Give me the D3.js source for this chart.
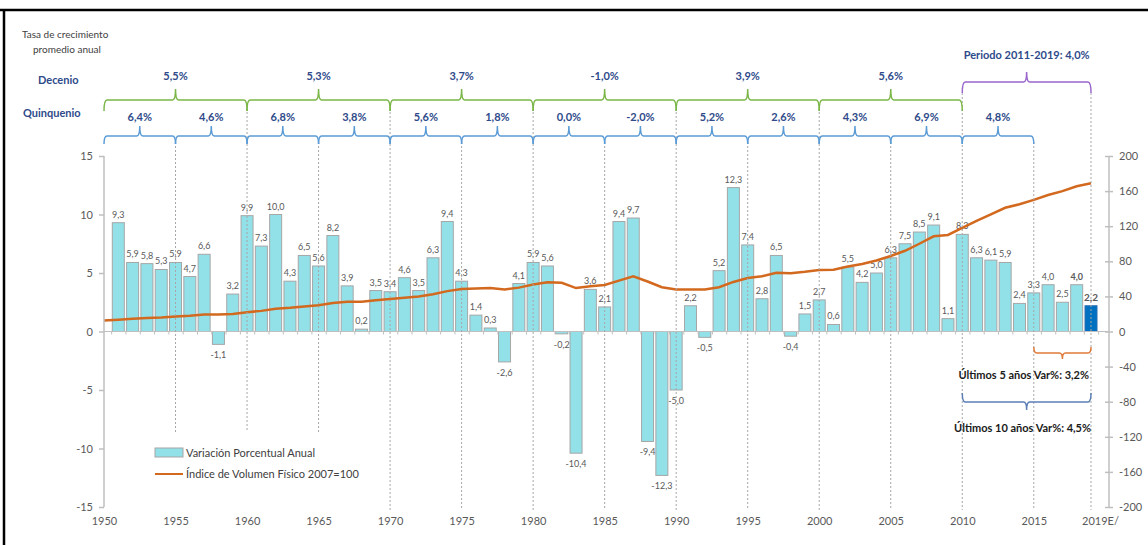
<!DOCTYPE html>
<html>
<head>
<meta charset="utf-8">
<script src="https://cdn.jsdelivr.net/npm/d3@7"></script>
<style>
  body { margin: 0; background: #fff; }
  svg { font-family: Lato, "Liberation Sans", sans-serif; }
</style>
</head>
<body>
<div id="chart"></div>
<script>
// Data
const years = d3.range(1951, 2020);
const growth = [9.3, 5.9, 5.8, 5.3, 5.9, 4.7, 6.6, -1.1, 3.2, 9.9,
                7.3, 10.0, 4.3, 6.5, 5.6, 8.2, 3.9, 0.2, 3.5, 3.4,
                4.6, 3.5, 6.3, 9.4, 4.3, 1.4, 0.3, -2.6, 4.1, 5.9,
                5.6, -0.2, -10.4, 3.6, 2.1, 9.4, 9.7, -9.4, -12.3, -5.0,
                2.2, -0.5, 5.2, 12.3, 7.4, 2.8, 6.5, -0.4, 1.5, 2.7,
                0.6, 5.5, 4.2, 5.0, 6.3, 7.5, 8.5, 9.1, 1.1, 8.3,
                6.3, 6.1, 5.9, 2.4, 3.3, 4.0, 2.5, 4.0, 2.2];
const indexYears = d3.range(1950, 2020);
const indexValues = [12.5, 13.5, 14.5, 15.5, 16, 17, 18, 19.5, 19.5, 20,
                     22, 23.5, 26, 27, 28.5, 30, 32.5, 34, 34, 35.5,
                     37, 38.5, 40, 42.5, 46, 48.5, 49, 49.5, 48, 50,
                     53.5, 56, 55.5, 49.5, 51.5, 53, 58, 63, 57, 50.5,
                     48, 48, 48, 50.5, 56.5, 61, 63, 67, 66.5, 68,
                     70, 70.5, 74, 77, 81, 86, 92, 100, 108.5, 110,
                     118, 126, 133.5, 141, 145, 150, 155.5, 160, 165.5, 169];
const decadeStarts = [1950, 1960, 1970, 1980, 1990, 2000];
const decadeRates = ['5,5%', '5,3%', '3,7%', '-1,0%', '3,9%', '5,6%'];
const quinqStarts = [1950, 1955, 1960, 1965, 1970, 1975, 1980, 1985, 1990, 1995, 2000, 2005, 2010];
const quinqRates = ['6,4%', '4,6%', '6,8%', '3,8%', '5,6%', '1,8%', '0,0%', '-2,0%', '5,2%', '2,6%', '4,3%', '6,9%', '4,8%'];
const xTickYears = [1950, 1955, 1960, 1965, 1970, 1975, 1980, 1985, 1990, 1995, 2000, 2005, 2010, 2015, 2019];
const leftTicks = [-15, -10, -5, 0, 5, 10, 15];
const rightTicks = [-200, -160, -120, -80, -40, 0, 40, 80, 120, 160, 200];

const width = 1148, height = 545;
const svg = d3.select('#chart').append('svg')
  .attr('width', width).attr('height', height);

const x = d3.scaleLinear().domain([1950, 2019]).range([104, 1091]);
const yL = d3.scaleLinear().domain([-15, 15]).range([507, 156]);
const yR = d3.scaleLinear().domain([-200, 200]).range([507, 156]);

const navy = '#2e4a8a';
const axisGray = '#bfbfbf';
const textGray = '#595959';

// frame
svg.append('line').attr('x1', 0).attr('x2', width).attr('y1', 10).attr('y2', 10)
  .attr('stroke', '#000').attr('stroke-width', 2.5);
svg.append('line').attr('x1', 4).attr('x2', 4).attr('y1', 10).attr('y2', height)
  .attr('stroke', '#000').attr('stroke-width', 2.5);

// header texts
svg.append('text').attr('x', 22).attr('y', 38).attr('font-size', 10).attr('fill', '#404040')
  .text('Tasa de crecimiento');
svg.append('text').attr('x', 33).attr('y', 53).attr('font-size', 10).attr('fill', '#404040')
  .text('promedio anual');
svg.append('text').attr('x', 38).attr('y', 84).attr('font-size', 11).attr('font-weight', 'bold')
  .attr('fill', navy).text('Decenio');
svg.append('text').attr('x', 23).attr('y', 117).attr('font-size', 11).attr('font-weight', 'bold')
  .attr('fill', navy).text('Quinquenio');

// curly bracket path, dir=1: ends go down & nub up; dir=-1: reverse
function bracket(x0, x1, y, endLen, nubLen, dir) {
  const xm = (x0 + x1) / 2;
  const e = endLen * dir, n = nubLen * dir;
  return `M${x0},${y + e} Q${x0},${y} ${x0 + 3},${y} L${xm - 3},${y} Q${xm},${y} ${xm},${y - n}` +
         ` Q${xm},${y} ${xm + 3},${y} L${x1 - 3},${y} Q${x1},${y} ${x1},${y + e}`;
}

// dashed year separators
const sepYears = [1955, 1960, 1965, 1970, 1975, 1980, 1985, 1990, 1995, 2000, 2005, 2010, 2015, 2019];
function sepTop(yr) {
  if (yr === 2010 || yr === 2019) return 93;
  if (yr % 10 === 0) return 112;
  return 142;
}
function sepBottom(yr) {
  return (yr >= 1955 && yr <= 1965) ? 432 : 510;
}

// bars
const barW = 12;
svg.append('g').selectAll('rect')
  .data(years)
  .join('rect')
  .attr('x', d => x(d) - barW / 2)
  .attr('width', barW)
  .attr('y', (d, i) => yL(Math.max(0, growth[i])))
  .attr('height', (d, i) => Math.abs(yL(growth[i]) - yL(0)))
  .attr('fill', d => d === 2019 ? '#0070c0' : '#92e1e9')
  .attr('stroke', d => d === 2019 ? '#2a6fb0' : '#a6a6a6')
  .attr('stroke-width', 1);

// bar labels
svg.append('g').selectAll('text')
  .data(years)
  .join('text')
  .attr('x', d => x(d))
  .attr('y', (d, i) => growth[i] >= 0 ? yL(growth[i]) - 5 : yL(growth[i]) + 14)
  .attr('text-anchor', 'middle')
  .attr('font-size', (d) => d === 2019 ? 10 : 9)
  .attr('font-weight', d => d >= 2018 ? 'bold' : 'normal')
  .attr('fill', textGray)
  .text((d, i) => growth[i].toFixed(1).replace('.', ','));

// zero line with year ticks
const zeroAxis = svg.append('g').attr('transform', `translate(0,${yL(0)})`)
  .call(d3.axisBottom(x).tickValues(d3.range(1950.5, 2019.6, 1)).tickSize(3).tickFormat(''));
zeroAxis.select('.domain').attr('d', `M104,0H1109`);
zeroAxis.selectAll('line, path').attr('stroke', axisGray);

// index line
const line = d3.line().x((d, i) => x(indexYears[i])).y(d => yR(d));
svg.append('path').datum(indexValues)
  .attr('d', line)
  .attr('fill', 'none')
  .attr('stroke', '#d2691e')
  .attr('stroke-width', 2.5);

// separators
svg.append('g').selectAll('line')
  .data(sepYears)
  .join('line')
  .attr('x1', d => x(d)).attr('x2', d => x(d))
  .attr('y1', d => sepTop(d)).attr('y2', d => sepBottom(d))
  .attr('stroke', '#a6a6a6')
  .attr('stroke-dasharray', '2,2');

// left axis
const leftAxis = svg.append('g').attr('transform', 'translate(104,0)')
  .call(d3.axisLeft(yL).tickValues(leftTicks).tickSize(5).tickPadding(6).tickFormat(d => String(d)));
leftAxis.selectAll('line, path').attr('stroke', axisGray).attr('stroke-width', 1.5);
leftAxis.select('.domain').attr('d', 'M0,156V507');
leftAxis.selectAll('text').attr('fill', textGray).attr('font-size', 11)
  .attr('font-family', 'Lato, sans-serif');

// right axis
const rightAxis = svg.append('g').attr('transform', 'translate(1109,0)')
  .call(d3.axisRight(yR).tickValues(rightTicks).tickSize(4).tickPadding(6).tickFormat(d => String(d)));
rightAxis.selectAll('line, path').attr('stroke', axisGray).attr('stroke-width', 1.5);
rightAxis.select('.domain').attr('d', 'M0,156V507');
rightAxis.selectAll('line').attr('x1', -4);
rightAxis.selectAll('text').attr('fill', textGray).attr('font-size', 11)
  .attr('font-family', 'Lato, sans-serif');

// bottom year labels
const bottomAxis = svg.append('g').attr('transform', 'translate(0,513)')
  .call(d3.axisBottom(x).tickValues(xTickYears).tickSize(0).tickPadding(4)
    .tickFormat(d => d === 2019 ? '2019E/' : d));
bottomAxis.select('.domain').remove();
bottomAxis.selectAll('text').attr('fill', textGray).attr('font-size', 11)
  .attr('font-family', 'Lato, sans-serif')
  .attr('dx', d => d === 2019 ? 9 : 0);

// decade brackets
const decG = svg.append('g');
decG.selectAll('path')
  .data(decadeStarts)
  .join('path')
  .attr('d', d => bracket(x(d), x(d + 10), 100, 11, 11, 1))
  .attr('fill', 'none').attr('stroke', '#7ab648').attr('stroke-width', 1.5);
decG.selectAll('text')
  .data(decadeStarts)
  .join('text')
  .attr('x', d => x(d + 5)).attr('y', 80)
  .attr('text-anchor', 'middle').attr('font-size', 11).attr('font-weight', 'bold')
  .attr('fill', navy)
  .text((d, i) => decadeRates[i]);

// quinquennium brackets
const qG = svg.append('g');
qG.selectAll('path')
  .data(quinqStarts)
  .join('path')
  .attr('d', d => bracket(x(d), x(d + 5), 136, 8, 10, 1))
  .attr('fill', 'none').attr('stroke', '#5b9bd5').attr('stroke-width', 1.5);
qG.selectAll('text')
  .data(quinqStarts)
  .join('text')
  .attr('x', d => x(d + 2.5)).attr('y', 121)
  .attr('text-anchor', 'middle').attr('font-size', 11).attr('font-weight', 'bold')
  .attr('fill', navy)
  .text((d, i) => quinqRates[i]);

// period 2011-2019 bracket
svg.append('path')
  .attr('d', bracket(x(2010), x(2019), 82, 11, 10, 1))
  .attr('fill', 'none').attr('stroke', '#9966cc').attr('stroke-width', 1.5);
svg.append('text').attr('x', x(2014.5)).attr('y', 59)
  .attr('text-anchor', 'middle').attr('font-size', 11).attr('font-weight', 'bold')
  .attr('fill', navy).text('Periodo  2011-2019: 4,0%');

// last 5 / last 10 years brackets
svg.append('path')
  .attr('d', bracket(x(2015), x(2019), 353, 6, 6, -1))
  .attr('fill', 'none').attr('stroke', '#e07b39').attr('stroke-width', 1.5);
svg.append('text').attr('x', 1089).attr('y', 379)
  .attr('text-anchor', 'end').attr('font-size', 11).attr('font-weight', 'bold')
  .attr('fill', '#1a1a1a').text('Últimos 5 años  Var%: 3,2%');
svg.append('path')
  .attr('d', bracket(x(2010), x(2019), 402, 9, 8, -1))
  .attr('fill', 'none').attr('stroke', '#5b7fb5').attr('stroke-width', 1.5);
svg.append('text').attr('x', 1091).attr('y', 432)
  .attr('text-anchor', 'end').attr('font-size', 11).attr('font-weight', 'bold')
  .attr('fill', '#1a1a1a').text('Últimos 10 años  Var%: 4,5%');

// legend
const legend = svg.append('g').attr('transform', 'translate(155,448)');
legend.append('rect').attr('width', 28).attr('height', 9)
  .attr('fill', '#92e1e9').attr('stroke', '#a6a6a6');
legend.append('text').attr('x', 31).attr('y', 9).attr('font-size', 11).attr('fill', '#404040')
  .text('Variación Porcentual Anual');
legend.append('line').attr('x1', 0).attr('x2', 28).attr('y1', 26).attr('y2', 26)
  .attr('stroke', '#d2691e').attr('stroke-width', 2);
legend.append('text').attr('x', 31).attr('y', 30).attr('font-size', 11).attr('fill', '#404040')
  .text('Índice de Volumen Físico 2007=100');
</script>
</body>
</html>
